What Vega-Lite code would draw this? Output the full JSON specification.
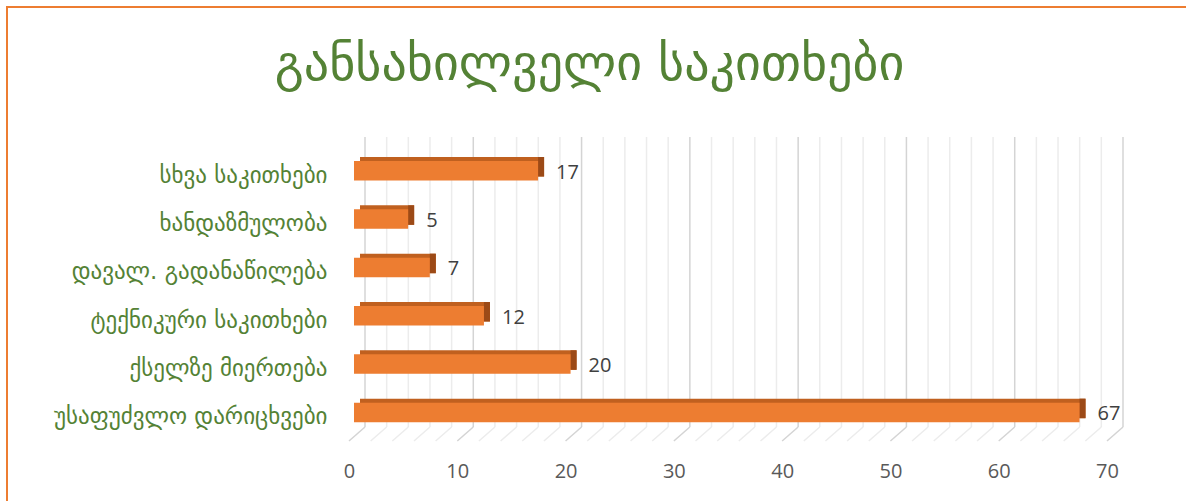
{
  "$schema": "https://vega.github.io/schema/vega-lite/v6.json",
  "width": 1181,
  "height": 496,
  "autosize": {"type": "none"},
  "padding": {"left": 7, "top": 7, "right": -2, "bottom": -2},
  "background": "white",
  "title": {
    "text": "განსახილველი საკითხები",
    "font": "DejaVu Sans",
    "fontSize": 50,
    "fontWeight": "normal",
    "color": "#548235",
    "anchor": "middle",
    "offset": -123,
    "baseline": "alphabetic",
    "dx": -8
  },
  "config": {"view": {"stroke": "#ED7D31", "strokeWidth": 2}},
  "datasets": {
    "bars": [
      {"category": "სხვა საკითხები", "value": 17},
      {"category": "ხანდაზმულობა", "value": 5},
      {"category": "დავალ. გადანაწილება", "value": 7},
      {"category": "ტექნიკური საკითხები", "value": 12},
      {"category": "ქსელზე მიერთება", "value": 20},
      {"category": "უსაფუძვლო დარიცხვები", "value": 67}
    ],
    "grid": [
      {"x": 0}, {"x": 2}, {"x": 4}, {"x": 6}, {"x": 8}, {"x": 10}, {"x": 12}, {"x": 14}, {"x": 16}, {"x": 18},
      {"x": 20}, {"x": 22}, {"x": 24}, {"x": 26}, {"x": 28}, {"x": 30}, {"x": 32}, {"x": 34}, {"x": 36}, {"x": 38},
      {"x": 40}, {"x": 42}, {"x": 44}, {"x": 46}, {"x": 48}, {"x": 50}, {"x": 52}, {"x": 54}, {"x": 56}, {"x": 58},
      {"x": 60}, {"x": 62}, {"x": 64}, {"x": 66}, {"x": 68}, {"x": 70}
    ]
  },
  "layer": [
    {
      "data": {"name": "grid"},
      "mark": {"type": "rule", "xOffset": 16, "yOffset": -33.75, "y2Offset": 14.6, "strokeWidth": 1.5},
      "encoding": {
        "x": {
          "field": "x",
          "type": "quantitative",
          "scale": {"domain": [0, 70], "range": [342, 1100], "nice": false, "zero": false},
          "axis": {
            "orient": "bottom",
            "offset": -40,
            "values": [0, 10, 20, 30, 40, 50, 60, 70],
            "domain": false,
            "ticks": false,
            "tickSize": 0,
            "labelPadding": 8,
            "labelBaseline": "middle",
            "labelColor": "#595959",
            "labelFont": "Open Sans",
            "labelFontSize": 20,
            "labelFlush": false,
            "labelOverlap": false,
            "grid": false,
            "title": null
          }
        },
        "y": {
          "datum": "სხვა საკითხები",
          "type": "nominal",
          "scale": {
            "domain": ["სხვა საკითხები", "ხანდაზმულობა", "დავალ. გადანაწილება", "ტექნიკური საკითხები", "ქსელზე მიერთება", "უსაფუძვლო დარიცხვები"],
            "range": [154, 415.15],
            "paddingInner": 0.5965,
            "paddingOuter": 0
          },
          "axis": {
            "orient": "left",
            "offset": -327,
            "domain": false,
            "ticks": false,
            "tickSize": 0,
            "labelPadding": 7,
            "labelAlign": "right",
            "labelBaseline": "middle",
            "labelColor": "#548235",
            "labelFont": "DejaVu Sans",
            "labelFontSize": 23,
            "labelLimit": 500,
            "labelOffset": 5,
            "grid": false,
            "title": null
          }
        },
        "y2": {"datum": "უსაფუძვლო დარიცხვები"},
        "color": {"condition": {"test": "datum.x % 10 === 0", "value": "#d4d4d4"}, "value": "#ececec"}
      }
    },
    {
      "data": {"name": "grid"},
      "mark": {"type": "rule", "xOffset": 0, "x2Offset": 16, "yOffset": 28.6, "y2Offset": 14.6, "strokeWidth": 1.5},
      "encoding": {
        "x": {"field": "x", "type": "quantitative"},
        "x2": {"field": "x"},
        "y": {"datum": "უსაფუძვლო დარიცხვები", "type": "nominal"},
        "y2": {"datum": "უსაფუძვლო დარიცხვები"},
        "color": {"condition": {"test": "datum.x % 10 === 0", "value": "#d4d4d4"}, "value": "#ececec"}
      }
    },
    {
      "data": {"name": "bars"},
      "mark": {"type": "bar", "color": "#C0601F", "xOffset": 11, "x2Offset": 11, "yOffset": -4, "y2Offset": -4},
      "encoding": {
        "x": {"field": "value", "type": "quantitative"},
        "y": {"field": "category", "type": "nominal"}
      }
    },
    {
      "data": {"name": "bars"},
      "mark": {"type": "bar", "color": "#9C4A17", "xOffset": 5, "x2Offset": 11, "yOffset": -4, "y2Offset": -4},
      "encoding": {
        "x": {"field": "value", "type": "quantitative"},
        "x2": {"field": "value"},
        "y": {"field": "category", "type": "nominal"}
      }
    },
    {
      "data": {"name": "bars"},
      "mark": {"type": "bar", "color": "#ED7D31", "xOffset": 5, "x2Offset": 5},
      "encoding": {
        "x": {"field": "value", "type": "quantitative"},
        "y": {"field": "category", "type": "nominal"}
      }
    },
    {
      "data": {"name": "bars"},
      "mark": {"type": "text", "align": "left", "baseline": "middle", "xOffset": 23, "yOffset": 2, "font": "Open Sans", "fontSize": 20, "color": "#404040"},
      "encoding": {
        "x": {"field": "value", "type": "quantitative"},
        "y": {"field": "category", "type": "nominal"},
        "text": {"field": "value", "type": "quantitative"}
      }
    }
  ]
}
